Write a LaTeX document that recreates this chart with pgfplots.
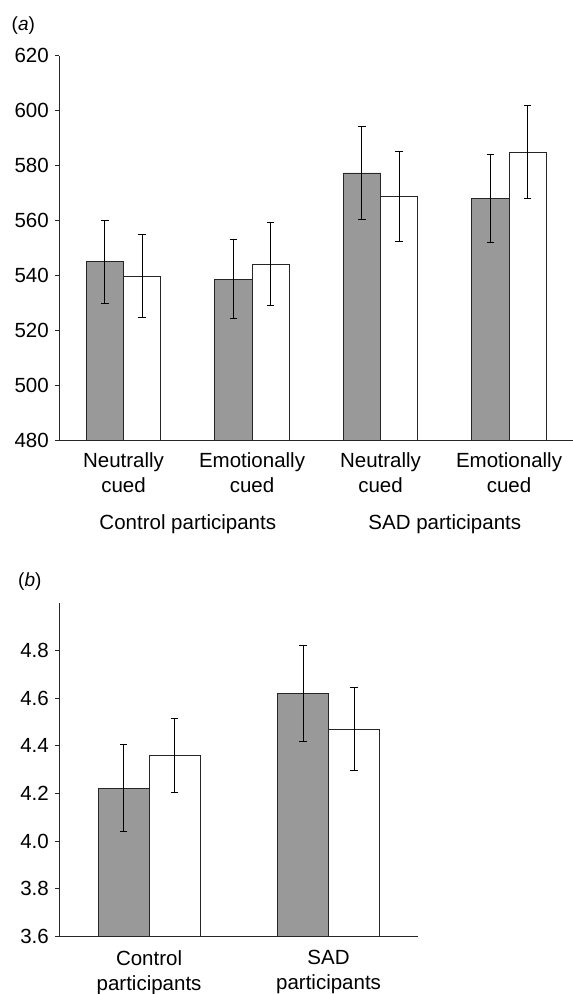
\documentclass[border=0pt]{standalone}
\usepackage{fontspec}
\setmainfont{Liberation Sans}
\usepackage{pgfplots}
\pgfplotsset{compat=1.18}
\definecolor{barfill}{RGB}{153,153,153}
\newcommand{\tfont}{\fontsize{20.5}{25}\selectfont}
\pgfplotsset{
  mybars/.style={
    scale only axis,
    axis x line*=bottom, axis y line*=left,
    axis line style={-, black!85, line width=0.9pt},
    ybar=0pt,
    tick align=outside,
    tick pos=left,
    major tick length=4pt,
    tick style={black!85, line width=0.9pt},
    major x tick style={draw=none},
    extra x tick style={major tick length=5pt, tick style={draw=black!85, line width=0.9pt}},
    extra x tick labels={},
    tick label style={font=\tfont},
    x tick label style={align=center},
    y tick label style={xshift=-3pt},
    /pgf/number format/assume math mode=true,
    xtick=data,
    clip=false,
    error bars/error bar style={line width=0.9pt, black},
    error bars/error mark options={rotate=90, mark size=3.7pt, line width=0.9pt, black},
  },
  grayb/.style={fill=barfill, draw=black!85, line width=0.9pt},
  whiteb/.style={fill=white, draw=black!85, line width=0.9pt},
}
\begin{document}
\begin{tikzpicture}
\useasboundingbox (0,0) rectangle (573pt,-994pt);
% ---------------- panel (a)
\node[anchor=west, inner sep=0pt, font=\fontsize{19}{22}\selectfont] at (11.5pt,-26pt) {(\textit{a})};
\begin{axis}[mybars,
  at={(59.3pt,-440.7pt)}, anchor=south west,
  width=514pt, height=385.2pt,
  xmin=-0.5, xmax=3.5,
  ymin=480, ymax=620,
  ytick={480,500,520,540,560,580,600,620},
  bar width=37.3pt,
  x tick label style={yshift=-4pt},
  xticklabels={Neutrally\\cued, Emotionally\\cued, Neutrally\\cued, Emotionally\\cued},
  extra x ticks={-0.5,0.5,1.5,2.5},
]
\addplot[grayb, error bars/.cd, y dir=both, y explicit] coordinates {
  (0,545.0) +- (0,15.0)
  (1,538.7) +- (0,14.4)
  (2,577.3) +- (0,17.0)
  (3,568.2) +- (0,16.0)
};
\addplot[whiteb, error bars/.cd, y dir=both, y explicit] coordinates {
  (0,539.8) +- (0,15.0)
  (1,544.2) +- (0,15.2)
  (2,568.8) +- (0,16.5)
  (3,584.8) +- (0,16.9)
};
\end{axis}
\node[anchor=base, font=\tfont] at (187.8pt,-529.3pt) {Control participants};
\node[anchor=base, font=\tfont] at (444.8pt,-529.3pt) {SAD participants};
% ---------------- panel (b)
\node[anchor=west, inner sep=0pt, font=\fontsize{19}{22}\selectfont] at (18pt,-582pt) {(\textit{b})};
\begin{axis}[mybars,
  at={(59.3pt,-936pt)}, anchor=south west,
  width=359pt, height=332.7pt,
  xmin=-0.5, xmax=1.5,
  ymin=3.6, ymax=5.0,
  ytick={3.6,3.8,4.0,4.2,4.4,4.6,4.8},
  yticklabel style={/pgf/number format/.cd, fixed, fixed zerofill, precision=1},
  bar width=51pt,
  x tick label style={yshift=-7pt},
  xticklabels={Control\\participants, SAD\\participants},
  extra x ticks={-0.5,0.5,1.5},
]
\addplot[grayb, error bars/.cd, y dir=both, y explicit] coordinates {
  (0,4.222) +- (0,0.182)
  (1,4.620) +- (0,0.202)
};
\addplot[whiteb, error bars/.cd, y dir=both, y explicit] coordinates {
  (0,4.360) +- (0,0.157)
  (1,4.470) +- (0,0.175)
};
\end{axis}
\end{tikzpicture}
\end{document}
